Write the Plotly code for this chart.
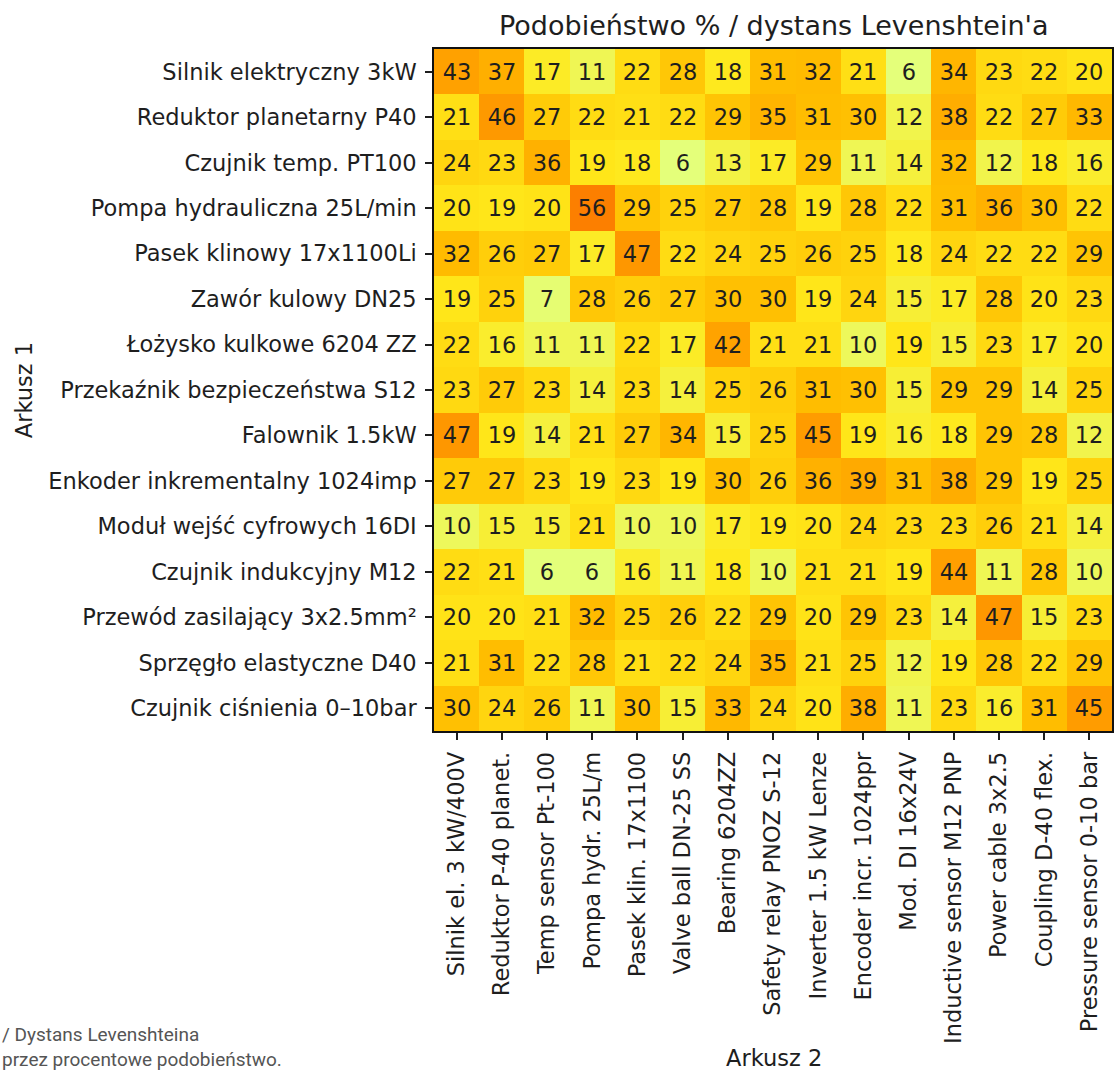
import plotly.graph_objects as go

# Items from sheet 1 (rows) and sheet 2 (columns)
sheet1_items = [
    "Silnik elektryczny 3kW",
    "Reduktor planetarny P40",
    "Czujnik temp. PT100",
    "Pompa hydrauliczna 25L/min",
    "Pasek klinowy 17x1100Li",
    "Zawór kulowy DN25",
    "Łożysko kulkowe 6204 ZZ",
    "Przekaźnik bezpieczeństwa S12",
    "Falownik 1.5kW",
    "Enkoder inkrementalny 1024imp",
    "Moduł wejść cyfrowych 16DI",
    "Czujnik indukcyjny M12",
    "Przewód zasilający 3x2.5mm²",
    "Sprzęgło elastyczne D40",
    "Czujnik ciśnienia 0–10bar",
]

sheet2_items = [
    "Silnik el. 3 kW/400V",
    "Reduktor P-40 planet.",
    "Temp sensor Pt-100",
    "Pompa hydr. 25L/m",
    "Pasek klin. 17x1100",
    "Valve ball DN-25 SS",
    "Bearing 6204ZZ",
    "Safety relay PNOZ S-12",
    "Inverter 1.5 kW Lenze",
    "Encoder incr. 1024ppr",
    "Mod. DI 16x24V",
    "Inductive sensor M12 PNP",
    "Power cable 3x2.5",
    "Coupling D-40 flex.",
    "Pressure sensor 0-10 bar",
]

# Similarity in percent (Levenshtein based), one list per sheet-1 item
similarity = [
    [43, 37, 17, 11, 22, 28, 18, 31, 32, 21, 6, 34, 23, 22, 20],
    [21, 46, 27, 22, 21, 22, 29, 35, 31, 30, 12, 38, 22, 27, 33],
    [24, 23, 36, 19, 18, 6, 13, 17, 29, 11, 14, 32, 12, 18, 16],
    [20, 19, 20, 56, 29, 25, 27, 28, 19, 28, 22, 31, 36, 30, 22],
    [32, 26, 27, 17, 47, 22, 24, 25, 26, 25, 18, 24, 22, 22, 29],
    [19, 25, 7, 28, 26, 27, 30, 30, 19, 24, 15, 17, 28, 20, 23],
    [22, 16, 11, 11, 22, 17, 42, 21, 21, 10, 19, 15, 23, 17, 20],
    [23, 27, 23, 14, 23, 14, 25, 26, 31, 30, 15, 29, 29, 14, 25],
    [47, 19, 14, 21, 27, 34, 15, 25, 45, 19, 16, 18, 29, 28, 12],
    [27, 27, 23, 19, 23, 19, 30, 26, 36, 39, 31, 38, 29, 19, 25],
    [10, 15, 15, 21, 10, 10, 17, 19, 20, 24, 23, 23, 26, 21, 14],
    [22, 21, 6, 6, 16, 11, 18, 10, 21, 21, 19, 44, 11, 28, 10],
    [20, 20, 21, 32, 25, 26, 22, 29, 20, 29, 23, 14, 47, 15, 23],
    [21, 31, 22, 28, 21, 22, 24, 35, 21, 25, 12, 19, 28, 22, 29],
    [30, 24, 26, 11, 30, 15, 33, 24, 20, 38, 11, 23, 16, 31, 45],
]

caption_lines = ["/ Dystans Levenshteina", "przez procentowe podobieństwo."]

# Wistia-style colour ramp
wistia = [
    [0.0, "#e4ff7a"],
    [0.25, "#ffe81a"],
    [0.5, "#ffbd00"],
    [0.75, "#ffa000"],
    [1.0, "#fc7f00"],
]

W, H = 1114, 1073
ML, MR, MT, MB = 434, 0, 49, 342
PW, PH = W - ML - MR, H - MT - MB

def px_x(p):
    return (p - ML) / PW

def px_y(p):
    return 1 - (p - MT) / PH

flat = [v for row in similarity for v in row]

FONT = "DejaVu Sans"
INK = "#1e1e1e"
FS = 22.5

fig = go.Figure(
    go.Heatmap(
        z=similarity,
        x=sheet2_items,
        y=sheet1_items,
        colorscale=wistia,
        zmin=min(flat),
        zmax=max(flat),
        showscale=False,
        texttemplate="%{z}",
        textfont=dict(family=FONT, size=FS, color=INK),
        hoverinfo="skip",
    )
)

axis_common = dict(
    type="category",
    ticks="outside",
    ticklen=7,
    tickwidth=1.6,
    tickcolor=INK,
    showline=True,
    mirror=True,
    linecolor="#111",
    linewidth=1.6,
    showgrid=False,
    zeroline=False,
    tickfont=dict(family=FONT, size=FS, color=INK),
)

fig.update_xaxes(**axis_common, tickangle=-90, ticklabelstandoff=3)
fig.update_yaxes(**axis_common, autorange="reversed", ticklabelstandoff=4)

fig.add_annotation(
    text="Podobieństwo % / dystans Levenshtein'a",
    xref="paper", yref="paper",
    x=px_x(775), y=px_y(43),
    xanchor="center", yanchor="bottom",
    showarrow=False,
    font=dict(family=FONT, size=27, color=INK),
)
fig.add_annotation(
    text="Arkusz 2",
    xref="paper", yref="paper",
    x=px_x(775), y=px_y(1072),
    xanchor="center", yanchor="bottom",
    borderpad=0,
    showarrow=False,
    font=dict(family=FONT, size=FS, color=INK),
)
fig.add_annotation(
    text="Arkusz 1",
    xref="paper", yref="paper",
    x=px_x(23), y=px_y(390),
    xanchor="center", yanchor="middle",
    textangle=-90,
    showarrow=False,
    font=dict(family=FONT, size=FS, color=INK),
)

# Two-line caption in the lower-left corner
fig.add_annotation(
    text="<br>".join(caption_lines),
    xref="paper", yref="paper",
    x=px_x(0), y=px_y(1072),
    xanchor="left", yanchor="bottom",
    align="left",
    borderpad=0,
    showarrow=False,
    font=dict(family="Roboto", size=19, color="#555555"),
)

fig.update_layout(
    width=W,
    height=H,
    margin=dict(l=ML, r=MR, t=MT, b=MB, pad=0),
    paper_bgcolor="white",
    plot_bgcolor="white",
    showlegend=False,
)

fig.write_html("out.html")
